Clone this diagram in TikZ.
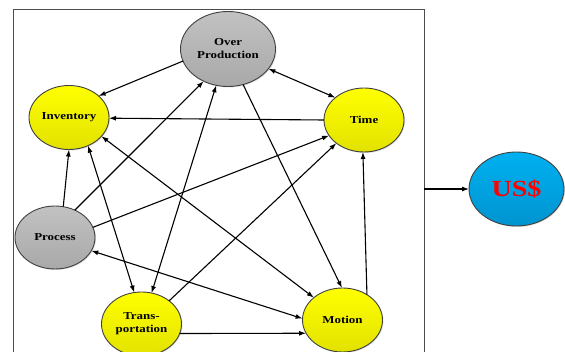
\documentclass[tikz,border=0pt]{standalone}
\usepackage{fontspec}
\newfontfamily\wideserif[FakeStretch=1.22]{Liberation Serif}
\usetikzlibrary{shapes.geometric,arrows.meta,shadows}
\definecolor{usdtop}{RGB}{0,176,240}
\definecolor{usdbot}{RGB}{0,148,208}
\definecolor{yeltop}{RGB}{255,255,0}
\definecolor{yelbot}{RGB}{226,226,0}

\begin{document}
\begin{tikzpicture}[x=1pt,y=-1pt,
	waste/.style={ellipse,draw=black!75,line width=0.9pt,inner sep=0pt,outer sep=0pt,align=center,
		font=\wideserif\bfseries\fontsize{10.6}{13}\selectfont,
		drop shadow={opacity=0.25,shadow xshift=1pt,shadow yshift=-1pt}},
	yel/.style={waste,top color=yeltop,bottom color=yelbot,minimum width=80pt,minimum height=64pt},
	gry/.style={waste,top color=black!24,bottom color=black!34},
	link/.style={line width=1.1pt,-{Latex[length=7pt,width=5pt]}},
	both/.style={line width=1.1pt,{Latex[length=7pt,width=5pt]}-{Latex[length=7pt,width=5pt]}}]
			%%%%% START %%%%%
			
			\useasboundingbox (0,0) rectangle (565,352);
			
			\draw[black!70,line width=1pt] (13,352) -- (13,10) -- (424,10) -- (424,352);
			
			\node[gry,minimum width=95pt,minimum height=75pt] (over) at (228,49) {Over\\Production};
			\node[yel] (inv) at (69,117.5) {Inventory};
			\node[yel] (time) at (364,120) {Time};
			\node[gry,minimum width=80pt,minimum height=63pt] (proc) at (55,237.5) {Process};
			\node[yel] (trans) at (141.5,324) {Trans-\\portation};
			\node[yel] (mot) at (342.5,320) {Motion};
			
			\node[waste,top color=usdtop,bottom color=usdbot,minimum width=95pt,minimum height=74pt,
				text=red,font=\wideserif\bfseries\fontsize{23}{26}\selectfont] (usd) at (516.5,189) {US\$};
			
			\draw[link] (over.195) -- (inv.36);
			\draw[both] (over.334) -- (time.142);
			\draw[link] (over.293) -- (mot.91);
			\draw[link] (proc.54) -- (over.233);
			\draw[both] (trans.72) -- (over.252);
			\draw[both] (inv.304) -- (trans.103);
			\draw[link] (proc.75) -- (inv.270);
			\draw[link] (time.180) -- (inv.359);
			\draw[both] (inv.330) -- (mot.142);
			\draw[both] (proc.340) -- (mot.178);
			\draw[link] (trans.346) -- (mot.200);
			\draw[link] (mot.46) -- (time.268);
			\draw[link] (proc.15) -- (time.204);
			\draw[link] (trans.40) -- (time.220);
			
			\coordinate (boxout) at (424,189);
			\draw[link] (boxout) -- (usd.west);
			
			%%%%% END %%%%%
\end{tikzpicture}
\end{document}
